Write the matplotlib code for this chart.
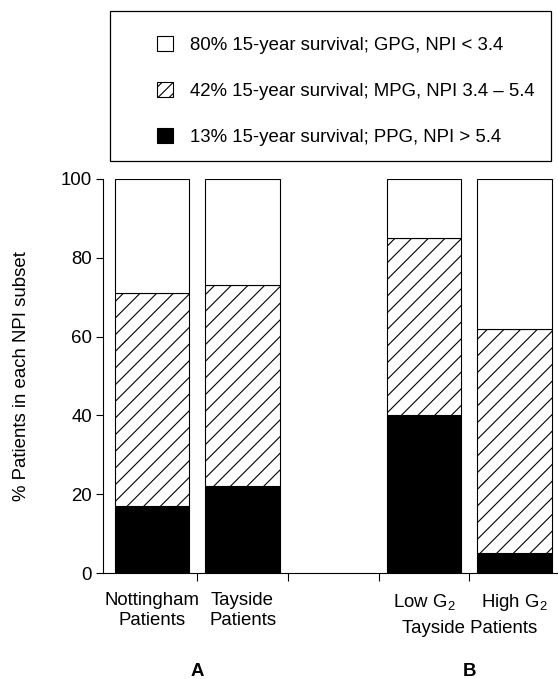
import numpy as np
import matplotlib
matplotlib.use("Agg")
from matplotlib import pyplot as plt
from matplotlib.patches import Patch, Rectangle

plt.rcParams["font.family"] = ["Liberation Sans", "DejaVu Sans"]
plt.rcParams["mathtext.default"] = "regular"
plt.rcParams["hatch.linewidth"] = 0.8

# NPI subsets (% of patients), bottom to top of each stack
groups = ["Nottingham\nPatients", "Tayside\nPatients", "Low G$_2$", "High G$_2$"]
positions = [0, 1, 3, 4]
ppg = np.array([17, 22, 40, 5])    # NPI > 5.4
mpg = np.array([54, 51, 45, 57])   # NPI 3.4 - 5.4
gpg = 100 - ppg - mpg              # NPI < 3.4

legend_labels = [
    "80% 15-year survival; GPG, NPI < 3.4",
    "42% 15-year survival; MPG, NPI 3.4 \u2013 5.4",
    "13% 15-year survival; PPG, NPI > 5.4",
]

if __name__ == "__main__":
    fig = plt.figure(figsize=(5.58, 6.79), dpi=100)
    ax = fig.add_axes([103 / 558, 1 - 573 / 679, 455 / 558, 394 / 679])

    fs = 13.4
    width = 0.82
    kw = dict(width=width, edgecolor="black", linewidth=0.8)
    ax.bar(positions, ppg, color="black", **kw)
    ax.bar(positions, mpg, bottom=ppg, color="white", hatch="//", **kw)
    ax.bar(positions, gpg, bottom=ppg + mpg, color="white", **kw)

    ax.set_xlim(-0.54, 4.48)
    ax.set_ylim(0, 100)
    ax.set_yticks([0, 20, 40, 60, 80, 100])
    ax.tick_params(axis="y", labelsize=fs, length=5, width=0.8, pad=3)
    ax.set_ylabel("% Patients in each NPI subset", fontsize=fs, labelpad=22)

    # separator ticks between bars, labels centred under the bars
    ax.set_xticks([0.5, 1.5, 2.5, 3.5])
    ax.set_xticklabels([])
    ax.tick_params(axis="x", which="major", length=6, width=0.8)
    ax.set_xticks(positions, minor=True)
    ax.set_xticklabels(groups, minor=True, fontsize=fs)
    ax.tick_params(axis="x", which="minor", length=0, pad=14)

    for side in ["top", "right"]:
        ax.spines[side].set_visible(False)
    for side in ["left", "bottom"]:
        ax.spines[side].set_linewidth(0.8)

    xt = ax.get_xaxis_transform()
    ax.annotate("Tayside Patients", xy=(3.5, 0), xycoords=xt, xytext=(0, -40),
                textcoords="offset points", ha="center", va="center", fontsize=fs)
    ax.annotate("A", xy=(0.5, 0), xycoords=xt, xytext=(0, -71),
                textcoords="offset points", ha="center", va="center",
                fontsize=fs, fontweight="bold")
    ax.annotate("B", xy=(3.5, 0), xycoords=xt, xytext=(0, -71),
                textcoords="offset points", ha="center", va="center",
                fontsize=fs, fontweight="bold")

    handles = [
        Patch(facecolor="white", edgecolor="black", linewidth=0.8),
        Patch(facecolor="white", edgecolor="black", linewidth=0.8, hatch="///"),
        Patch(facecolor="black", edgecolor="black", linewidth=0.8),
    ]
    fig.legend(handles, legend_labels, loc="upper left",
               bbox_to_anchor=(157 / 558, 1 - 36 / 679), frameon=False,
               fontsize=fs, borderpad=0, borderaxespad=0,
               handlelength=0.86, handleheight=0.86, handletextpad=0.9,
               labelspacing=1.52)
    fig.add_artist(Rectangle((110 / 558, 1 - 161 / 679), 441 / 558, 150 / 679,
                             transform=fig.transFigure, fill=False,
                             edgecolor="black", linewidth=0.9))

    fig.savefig("out.png", dpi=100)
